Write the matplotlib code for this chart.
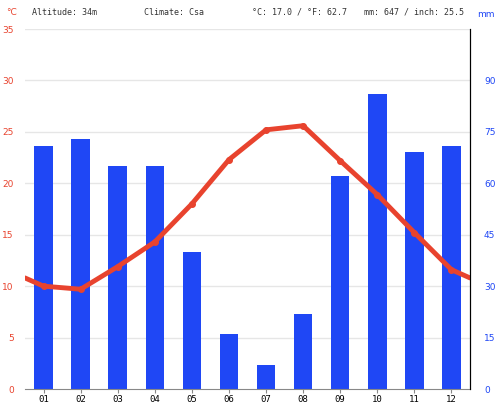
import matplotlib
matplotlib.use("Agg")
import matplotlib.pyplot as plt

months = ["01","02","03","04","05","06","07","08","09","10","11","12"]
precip_mm = [71, 73, 65, 65, 40, 16, 7, 22, 62, 86, 69, 71]
temp_c = [10.0, 9.7, 11.9, 14.3, 18.0, 22.3, 25.2, 25.6, 22.2, 18.9, 15.2, 11.6]

fig = plt.figure(figsize=(5, 4.05), dpi=100)
ax = fig.add_axes([0.05, 0.0395, 0.89, 0.8888])
x = list(range(1, 13))
ax.set_xlim(0.5, 12.5)
ax.set_ylim(0, 35)
for y in range(5, 36, 5):
    ax.axhline(y, color="#e6e6e6", lw=1, zorder=0)
ax.bar(x, [p / 3 for p in precip_mm], width=0.5, color="#1f47f5", zorder=2)
xl = [0.5] + x + [12.5]
tl = [(temp_c[-1] + temp_c[0]) / 2] + temp_c + [(temp_c[-1] + temp_c[0]) / 2]
ax.plot(xl, tl, color="#e8432e", lw=3.5, zorder=3, solid_capstyle="round")
ax.plot(x, temp_c, "o", color="#e8432e", ms=4, zorder=4)
ax.set_xticks(x)
ax.set_xticklabels(months, fontsize=6.5, family="DejaVu Sans Mono")
ax.set_yticks(range(0, 36, 5))
ax.set_yticklabels([str(v) for v in range(0, 36, 5)], fontsize=6.5, color="#e8432e")
ax.tick_params(axis="y", length=0, pad=8)
ax.tick_params(axis="x", length=3, color="#888888", pad=1.5)
for s in ["top", "left"]:
    ax.spines[s].set_visible(False)
ax.spines["bottom"].set_color("#888888")
ax.spines["right"].set_color("black")
ax2 = ax.twinx()
ax2.set_ylim(0, 105)
ax2.set_yticks(range(0, 91, 15))
ax2.set_yticklabels([str(v) for v in range(0, 91, 15)], fontsize=6.5, color="#1f47f5")
ax2.tick_params(axis="y", length=0, pad=10)
for s in ["top", "left", "bottom"]:
    ax2.spines[s].set_visible(False)
ax2.spines["right"].set_color("black")
fig.text(0.012, 0.97, "°C", color="#e8432e", fontsize=6.5, va="center")
fig.text(0.955, 0.965, "mm", color="#1f47f5", fontsize=6.5, va="center")
kw = dict(fontsize=6, family="DejaVu Sans Mono", va="center", color="#333333")
fig.text(0.064, 0.97, "Altitude: 34m", **kw)
fig.text(0.288, 0.97, "Climate: Csa", **kw)
fig.text(0.505, 0.97, "°C: 17.0 / °F: 62.7", **kw)
fig.text(0.728, 0.97, "mm: 647 / inch: 25.5", **kw)
fig.savefig("out.png", dpi=100)
